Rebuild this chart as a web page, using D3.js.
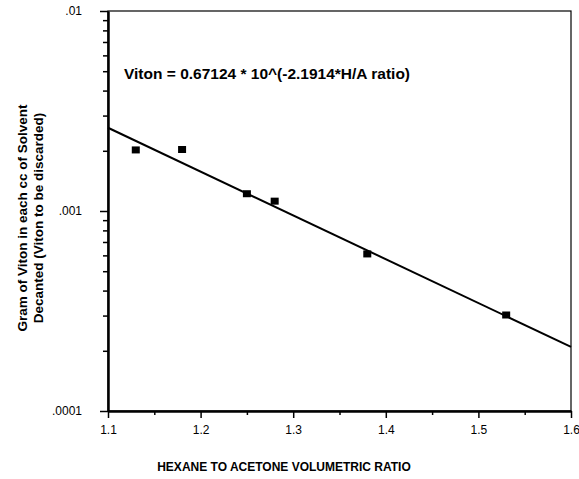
<!DOCTYPE html>
<html>
<head>
<meta charset="utf-8">
<script src="https://cdn.jsdelivr.net/npm/d3@7"></script>
<style>
  body { margin: 0; background: #fff; }
  text { font-family: "Liberation Sans", Arial, sans-serif; fill: #000; }
</style>
</head>
<body>
<div id="chart"></div>
<script>
// data
const ratios = [1.13, 1.18, 1.25, 1.28, 1.38, 1.53];
const grams = [0.00202, 0.00203, 0.00122, 0.00112, 0.00061, 0.000302];
const fitA = 0.67124;
const fitB = -2.1914;
const xTicks = [1.1, 1.2, 1.3, 1.4, 1.5, 1.6];
const yTicks = [0.0001, 0.001, 0.01];
const yTickLabels = ['.0001', '.001', '.01'];

const WIDTH = 579;
const HEIGHT = 479;
const MARGIN = { left: 108, right: 8, top: 11, bottom: 68 };

const svg = d3.select('#chart').append('svg')
  .attr('width', WIDTH)
  .attr('height', HEIGHT);

const x = d3.scaleLinear()
  .domain([1.1, 1.6])
  .range([MARGIN.left, WIDTH - MARGIN.right]);

const y = d3.scaleLog()
  .domain([0.0001, 0.01])
  .range([HEIGHT - MARGIN.bottom, MARGIN.top]);

// frame (top & right thin)
svg.append('rect')
  .attr('x', x(1.1)).attr('y', y(0.01))
  .attr('width', x(1.6) - x(1.1))
  .attr('height', y(0.0001) - y(0.01))
  .attr('fill', 'none')
  .attr('stroke', '#000')
  .attr('stroke-width', 1.2);

// minor y ticks
let minorY = [];
[0.0001, 0.001].forEach(d => { for (let k = 2; k <= 9; k++) minorY.push(d * k); });
svg.append('g')
  .attr('transform', `translate(${x(1.1)},0)`)
  .call(d3.axisLeft(y).tickValues(minorY).tickSize(5).tickFormat(''))
  .call(g => g.select('.domain').remove())
  .selectAll('line').attr('stroke-width', 1.5);

// major y
const yAxis = svg.append('g')
  .attr('transform', `translate(${x(1.1)},0)`)
  .call(d3.axisLeft(y).tickValues(yTicks).tickSizeInner(8).tickSizeOuter(0)
    .tickFormat((d, i) => yTickLabels[i]).tickPadding(18));
yAxis.select('.domain').attr('stroke-width', 2.5);
yAxis.selectAll('line').attr('stroke-width', 1.5);
yAxis.selectAll('text').style('font-size', '12px');

// minor x ticks
svg.append('g')
  .attr('transform', `translate(0,${y(0.0001)})`)
  .call(d3.axisBottom(x).tickValues([1.15, 1.25, 1.35, 1.45, 1.55]).tickSize(4).tickFormat(''))
  .call(g => g.select('.domain').remove())
  .selectAll('line').attr('stroke-width', 1.5);

const xAxis = svg.append('g')
  .attr('transform', `translate(0,${y(0.0001)})`)
  .call(d3.axisBottom(x).tickValues(xTicks).tickSizeInner(7).tickSizeOuter(0)
    .tickFormat(d3.format('.1f')).tickPadding(7));
xAxis.select('.domain').attr('stroke-width', 2.5);
xAxis.selectAll('line').attr('stroke-width', 1.5);
xAxis.selectAll('text').style('font-size', '12px');

// fit line
const fit = d => fitA * Math.pow(10, fitB * d);
svg.append('line')
  .attr('x1', x(1.1)).attr('y1', y(fit(1.1)))
  .attr('x2', x(1.6)).attr('y2', y(fit(1.6)))
  .attr('stroke', '#000')
  .attr('stroke-width', 2);

// points
svg.append('g')
  .selectAll('rect')
  .data(ratios)
  .join('rect')
  .attr('x', (d) => x(d) - 4)
  .attr('y', (d, i) => y(grams[i]) - 3.5)
  .attr('width', 8)
  .attr('height', 7)
  .attr('fill', '#000');

// equation
svg.append('text')
  .attr('x', 124).attr('y', 79)
  .style('font-size', '15.5px')
  .style('font-weight', 'bold')
  .text('Viton = 0.67124 * 10^(-2.1914*H/A ratio)');

// x label
svg.append('text')
  .attr('x', 284).attr('y', 471)
  .attr('text-anchor', 'middle')
  .style('font-size', '12px')
  .style('font-weight', 'bold')
  .text('HEXANE TO ACETONE VOLUMETRIC RATIO');

// y label (two lines)
const yl = svg.append('text')
  .attr('transform', 'translate(27,218) rotate(-90)')
  .attr('text-anchor', 'middle')
  .style('font-size', '13.5px')
  .style('font-weight', 'bold');
yl.append('tspan').attr('x', 0).attr('dy', 0).text('Gram of Viton in each cc of Solvent');
yl.append('tspan').attr('x', 0).attr('dy', 16).text('Decanted (Viton to be discarded)');
</script>
</body>
</html>
